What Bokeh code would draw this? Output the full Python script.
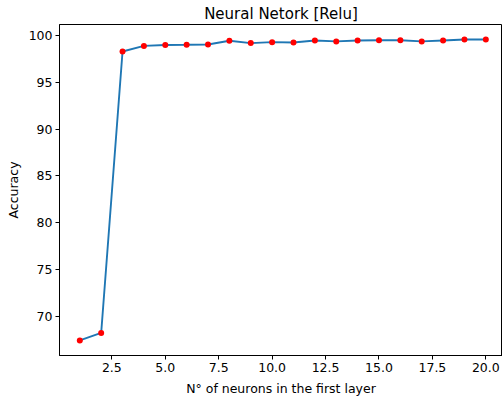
from bokeh.plotting import figure
from bokeh.models import Range1d, FixedTicker, PrintfTickFormatter
from bokeh.embed import file_html
from bokeh.resources import INLINE

# Data
neurons = list(range(1, 21))
accuracy = [67.4, 68.2, 98.3, 98.9, 99.0, 99.02, 99.05, 99.45, 99.2, 99.3,
            99.27, 99.48, 99.38, 99.48, 99.5, 99.5, 99.38, 99.48, 99.58, 99.58]
x_ticks = [2.5, 5.0, 7.5, 10.0, 12.5, 15.0, 17.5, 20.0]
y_ticks = [70, 75, 80, 85, 90, 95, 100]

title_text = "Neural Netork [Relu]"
x_label = "N° of neurons in the first layer"
y_label = "Accuracy"

FONT = "DejaVu Sans"

p = figure(width=502, height=398, output_backend="svg", toolbar_location=None,
           x_range=Range1d(0.05, 20.78), y_range=Range1d(65.79, 101.19),
           title=title_text,
           min_border_left=59, min_border_right=0, min_border_top=24,
           min_border_bottom=43)

p.background_fill_color = "white"
p.border_fill_color = "white"
p.outline_line_color = "black"
p.outline_line_width = 1
p.xgrid.visible = False
p.ygrid.visible = False

p.title.align = "center"
p.title.text_font = FONT
p.title.text_font_size = "15px"
p.title.text_font_style = "normal"
p.title.text_color = "black"
p.title.standoff = 4
p.title.offset = 0

for ax in (p.xaxis[0], p.yaxis[0]):
    ax.major_label_text_font = FONT
    ax.major_label_text_font_size = "12.5px"
    ax.major_label_text_color = "black"
    ax.axis_label_text_font = FONT
    ax.axis_label_text_font_size = "12.5px"
    ax.axis_label_text_font_style = "normal"
    ax.axis_label_text_color = "black"
    ax.major_tick_in = 0
    ax.major_tick_out = 4
    ax.minor_tick_in = 0
    ax.minor_tick_out = 0
    ax.axis_line_color = "black"
    ax.major_tick_line_color = "black"
    ax.major_label_standoff = 3

p.xaxis.ticker = FixedTicker(ticks=x_ticks)
p.xaxis.formatter = PrintfTickFormatter(format="%.1f")
p.yaxis.ticker = FixedTicker(ticks=y_ticks)
p.yaxis.formatter = PrintfTickFormatter(format="%d")
p.xaxis.axis_label = x_label
p.yaxis.axis_label = y_label
p.xaxis.axis_label_standoff = 6
p.yaxis.axis_label_standoff = 5

p.line(neurons, accuracy, line_color="#1f77b4", line_width=1.9)
p.scatter(neurons, accuracy, size=6, fill_color="red", line_color="red", line_width=0)

open("out.html", "w").write(file_html(p, INLINE))
